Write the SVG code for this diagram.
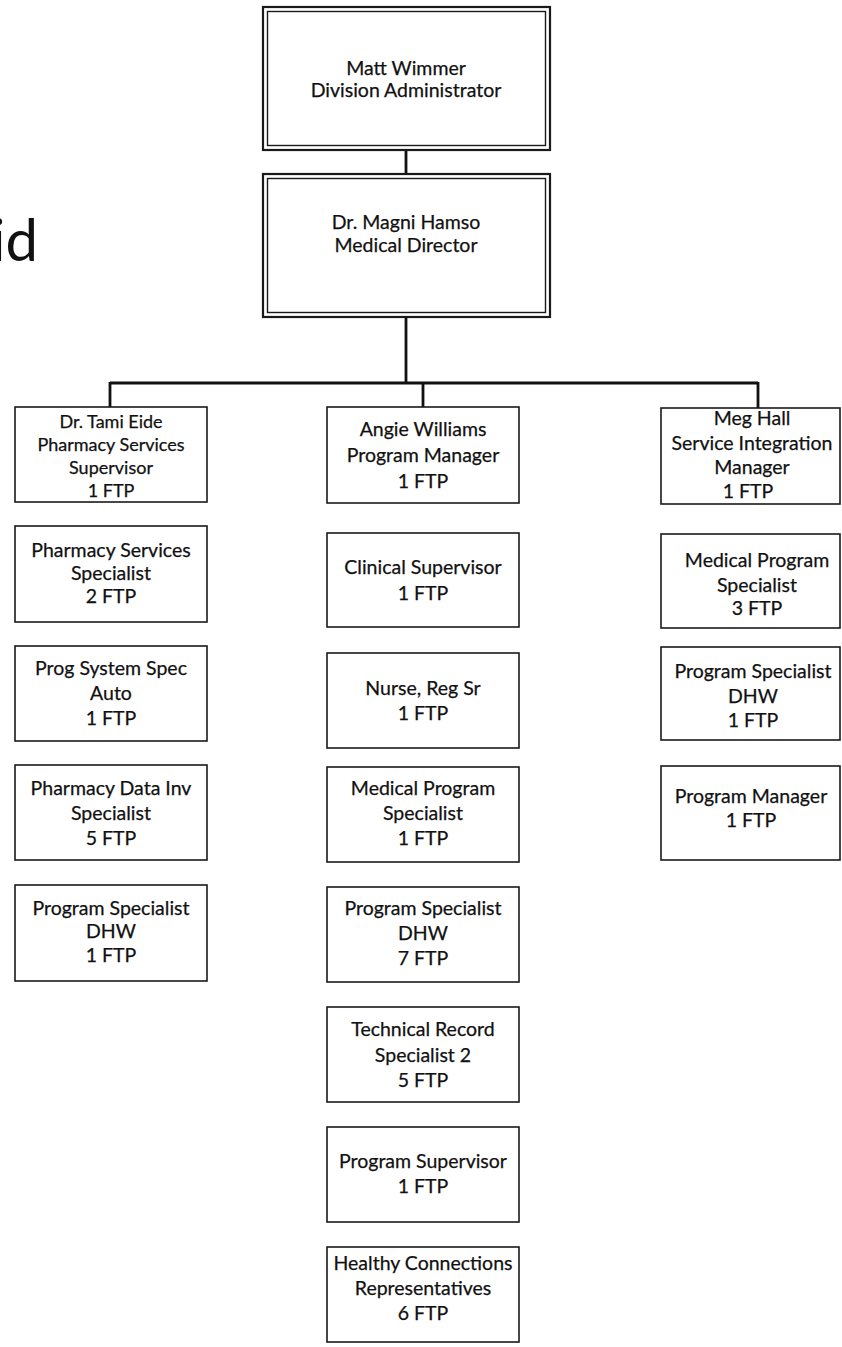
<svg xmlns="http://www.w3.org/2000/svg" width="842" height="1347" viewBox="0 0 842 1347">
  <style>
    .box { fill: #ffffff; stroke: #1a1a1a; stroke-width: 1.6; }
    .outer { fill: #ffffff; stroke: #1a1a1a; stroke-width: 2.2; }
    .inner { fill: none; stroke: #1a1a1a; stroke-width: 1.4; }
    .link { fill: none; stroke: #111111; stroke-width: 2.8; }
    text { font-family: Lato, "Liberation Sans", sans-serif; fill: #111111; stroke: #111111; stroke-width: 0.25; text-anchor: middle; }
    .t { font-size: 19.5px; }
    .s { font-size: 18px; }
    .title { font-size: 58px; text-anchor: end; stroke-width: 0; }
  </style>

  <!-- tail of the page heading -->
  <text class="title" x="38" y="261">id</text>

  <!-- reporting lines -->
  <g id="connectors">
    <path class="link" d="M406 150 V175"/>
    <path class="link" d="M406 317 V383"/>
    <path class="link" d="M110 383 H758"/>
    <path class="link" d="M110 382 V407"/>
    <path class="link" d="M423 383 V407"/>
    <path class="link" d="M758 382 V408"/>
  </g>

  <!-- top of the chart -->
  <g id="division-administrator">
    <rect class="outer" x="263" y="7" width="287" height="143"/>
    <rect class="inner" x="267.5" y="11.5" width="278" height="134"/>
    <text class="t" x="406" y="75">Matt Wimmer</text>
    <text class="t" x="406" y="97">Division Administrator</text>
  </g>

  <g id="medical-director">
    <rect class="outer" x="263" y="174" width="287" height="143"/>
    <rect class="inner" x="267.5" y="178.5" width="278" height="134"/>
    <text class="t" x="406" y="229">Dr. Magni Hamso</text>
    <text class="t" x="406" y="252">Medical Director</text>
  </g>

  <!-- pharmacy services column -->
  <g id="pharmacy-supervisor">
    <rect class="box" x="15" y="407" width="192" height="95"/>
    <text class="s" x="111" y="428">Dr. Tami Eide</text>
    <text class="s" x="111" y="451">Pharmacy Services</text>
    <text class="s" x="111" y="474">Supervisor</text>
    <text class="s" x="111" y="497">1 FTP</text>
  </g>
  <g id="pharmacy-services-specialist">
    <rect class="box" x="15" y="526" width="192" height="96"/>
    <text class="t" x="111" y="557">Pharmacy Services</text>
    <text class="t" x="111" y="580">Specialist</text>
    <text class="t" x="111" y="603">2 FTP</text>
  </g>
  <g id="prog-system-spec">
    <rect class="box" x="15" y="646" width="192" height="95"/>
    <text class="t" x="111" y="675">Prog System Spec</text>
    <text class="t" x="111" y="700">Auto</text>
    <text class="t" x="111" y="725">1 FTP</text>
  </g>
  <g id="pharmacy-data-inv">
    <rect class="box" x="15" y="765" width="192" height="95"/>
    <text class="t" x="111" y="795">Pharmacy Data Inv</text>
    <text class="t" x="111" y="820">Specialist</text>
    <text class="t" x="111" y="845">5 FTP</text>
  </g>
  <g id="pharmacy-program-specialist">
    <rect class="box" x="15" y="885" width="192" height="96"/>
    <text class="t" x="111" y="915">Program Specialist</text>
    <text class="t" x="111" y="938">DHW</text>
    <text class="t" x="111" y="962">1 FTP</text>
  </g>

  <!-- program management column -->
  <g id="program-manager">
    <rect class="box" x="327" y="407" width="192" height="96"/>
    <text class="t" x="423" y="436">Angie Williams</text>
    <text class="t" x="423" y="462">Program Manager</text>
    <text class="t" x="423" y="488">1 FTP</text>
  </g>
  <g id="clinical-supervisor">
    <rect class="box" x="327" y="533" width="192" height="94"/>
    <text class="t" x="423" y="574">Clinical Supervisor</text>
    <text class="t" x="423" y="600">1 FTP</text>
  </g>
  <g id="nurse-reg-sr">
    <rect class="box" x="327" y="653" width="192" height="95"/>
    <text class="t" x="423" y="695">Nurse, Reg Sr</text>
    <text class="t" x="423" y="720">1 FTP</text>
  </g>
  <g id="medical-program-specialist">
    <rect class="box" x="327" y="767" width="192" height="95"/>
    <text class="t" x="423" y="795">Medical Program</text>
    <text class="t" x="423" y="820">Specialist</text>
    <text class="t" x="423" y="845">1 FTP</text>
  </g>
  <g id="program-specialist-dhw">
    <rect class="box" x="327" y="887" width="192" height="95"/>
    <text class="t" x="423" y="915">Program Specialist</text>
    <text class="t" x="423" y="940">DHW</text>
    <text class="t" x="423" y="965">7 FTP</text>
  </g>
  <g id="technical-record-specialist">
    <rect class="box" x="327" y="1007" width="192" height="95"/>
    <text class="t" x="423" y="1036">Technical Record</text>
    <text class="t" x="423" y="1062">Specialist 2</text>
    <text class="t" x="423" y="1087">5 FTP</text>
  </g>
  <g id="program-supervisor">
    <rect class="box" x="327" y="1127" width="192" height="95"/>
    <text class="t" x="423" y="1168">Program Supervisor</text>
    <text class="t" x="423" y="1193">1 FTP</text>
  </g>
  <g id="healthy-connections">
    <rect class="box" x="327" y="1247" width="192" height="95"/>
    <text class="t" x="423" y="1270">Healthy Connections</text>
    <text class="t" x="423" y="1295">Representatives</text>
    <text class="t" x="423" y="1320">6 FTP</text>
  </g>

  <!-- service integration column -->
  <g id="service-integration-manager">
    <rect class="box" x="661" y="408" width="179" height="96"/>
    <text class="t" x="752" y="425">Meg Hall</text>
    <text class="t" x="752" y="450">Service Integration</text>
    <text class="t" x="752" y="474">Manager</text>
    <text class="t" x="748" y="498">1 FTP</text>
  </g>
  <g id="medical-program-specialist-si">
    <rect class="box" x="661" y="534" width="179" height="94"/>
    <text class="t" x="757" y="567">Medical Program</text>
    <text class="t" x="757" y="592">Specialist</text>
    <text class="t" x="757" y="615">3 FTP</text>
  </g>
  <g id="program-specialist-si">
    <rect class="box" x="661" y="647" width="179" height="93"/>
    <text class="t" x="753" y="678">Program Specialist</text>
    <text class="t" x="753" y="703">DHW</text>
    <text class="t" x="753" y="727">1 FTP</text>
  </g>
  <g id="program-manager-si">
    <rect class="box" x="661" y="766" width="179" height="94"/>
    <text class="t" x="751" y="803">Program Manager</text>
    <text class="t" x="751" y="827">1 FTP</text>
  </g>
</svg>
